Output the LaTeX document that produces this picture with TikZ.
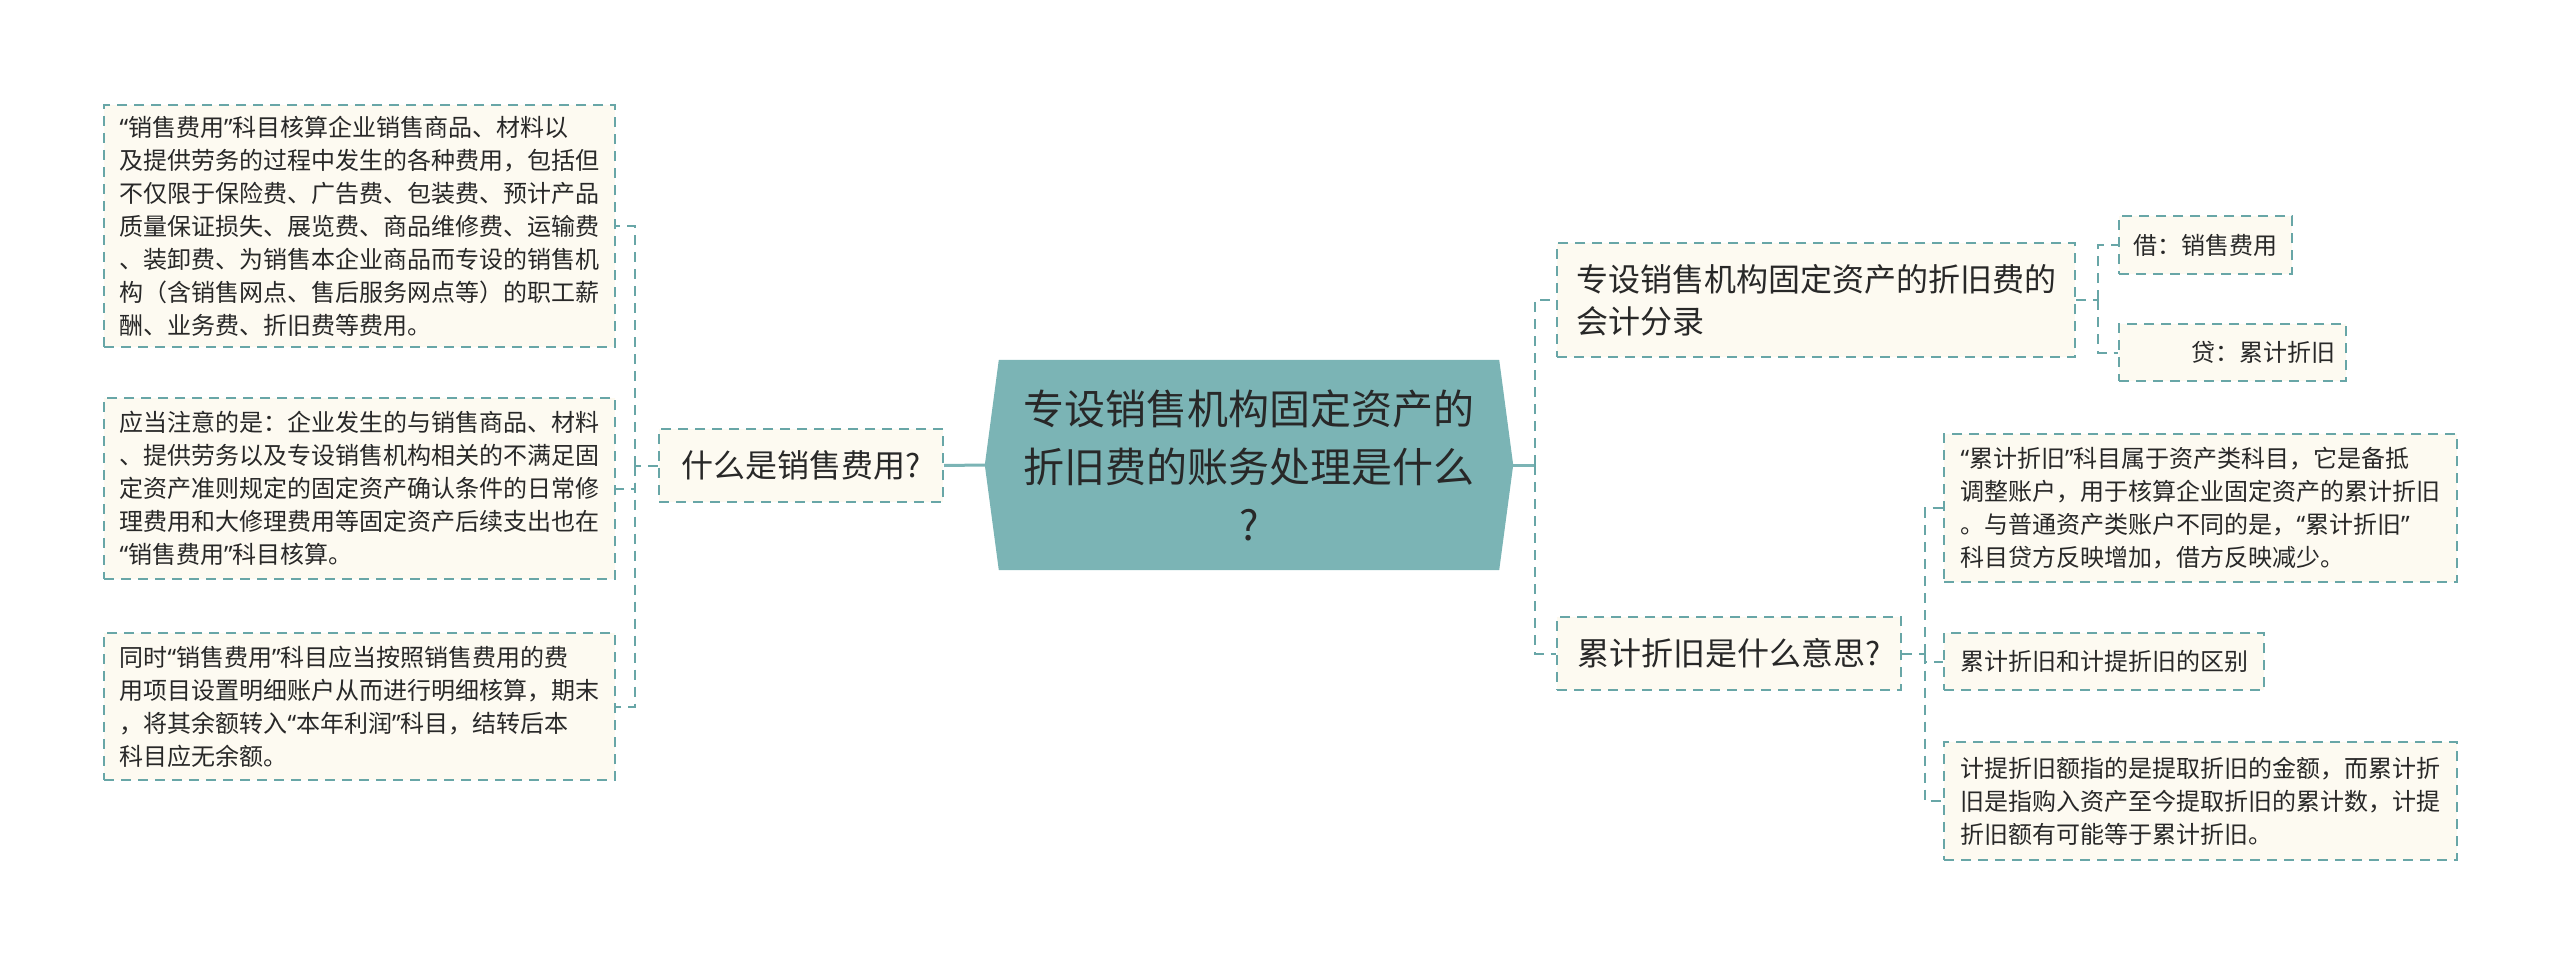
\documentclass[tikz,border=0pt]{standalone}
\usepackage{fontspec}
\newfontfamily\cjk{Noto Sans CJK SC}
\newfontfamily\latinq{Noto Sans}
\newcommand\qopen{{\latinq “}}
\newcommand\qclose{{\latinq ”}}
\usetikzlibrary{positioning,calc,backgrounds}
\definecolor{edge}{RGB}{104,166,167}
\definecolor{hexfill}{RGB}{123,180,181}
\definecolor{paper}{RGB}{253,250,241}
\definecolor{ink}{RGB}{40,40,40}

\begin{document}
\begin{tikzpicture}[x=1pt, y=-1pt, font=\cjk, text=ink,
		box/.style={draw=edge, dash pattern=on 10pt off 7pt, line width=2pt, fill=paper, anchor=north west, inner sep=0pt, align=left},
		small/.style={box, font=\cjk\fontsize{24}{33}\selectfont},
		topic/.style={box, font=\cjk\fontsize{32}{42}\selectfont},
		link/.style={draw=edge, dash pattern=on 10pt off 7pt, line width=2pt},
		trunk/.style={draw=hexfill, line width=3pt}]
		\useasboundingbox (0,0) rectangle (2560,963);
		% centre
		\node[font=\cjk\fontsize{41}{58}\selectfont, align=center, minimum width=528pt, minimum height=210pt, inner sep=0pt] (Main) at (1249,465) {专设销售机构固定资产的\\折旧费的账务处理是什么\\?};
		\begin{scope}[on background layer]
			\fill[hexfill] (Main.west) -- ($(Main.north west)+(14,0)$) -- ($(Main.north east)+(-14,0)$) -- (Main.east) -- ($(Main.south east)+(-14,0)$) -- ($(Main.south west)+(14,0)$) -- cycle;
		\end{scope}
		% left branch
		\node[topic, align=center, minimum width=284pt, minimum height=73pt] (Fee) at (658,428) {什么是销售费用?};
		\node[small, minimum width=511pt, minimum height=242pt] (FeeA) at (103,104) {\qopen 销售费用\qclose 科目核算企业销售商品、材料以\\及提供劳务的过程中发生的各种费用，包括但\\不仅限于保险费、广告费、包装费、预计产品\\质量保证损失、展览费、商品维修费、运输费\\、装卸费、为销售本企业商品而专设的销售机\\构（含销售网点、售后服务网点等）的职工薪\\酬、业务费、折旧费等费用。};
		\node[small, minimum width=511pt, minimum height=181pt] (FeeB) at (103,397) {应当注意的是：企业发生的与销售商品、材料\\、提供劳务以及专设销售机构相关的不满足固\\定资产准则规定的固定资产确认条件的日常修\\理费用和大修理费用等固定资产后续支出也在\\\qopen 销售费用\qclose 科目核算。};
		\node[small, minimum width=511pt, minimum height=147pt] (FeeC) at (103,632) {同时\qopen 销售费用\qclose 科目应当按照销售费用的费\\用项目设置明细账户从而进行明细核算，期末\\，将其余额转入\qopen 本年利润\qclose 科目，结转后本\\科目应无余额。};
		% right branch
		\node[topic, minimum width=518pt, minimum height=114pt] (Entry) at (1556,242) {专设销售机构固定资产的折旧费的\\会计分录};
		\node[small, minimum width=173pt, minimum height=58pt] (Debit) at (2118,215) {借：销售费用};
		\node[small, text width=205pt, inner xsep=11pt, align=right, minimum height=57pt] (Credit) at (2118,323) {贷：累计折旧};
		\node[topic, minimum width=344pt, minimum height=73pt] (Accum) at (1556,616) {累计折旧是什么意思?};
		\node[small, minimum width=513pt, minimum height=148pt] (AccA) at (1943,433) {\qopen 累计折旧\qclose 科目属于资产类科目，它是备抵\\调整账户，用于核算企业固定资产的累计折旧\\。与普通资产类账户不同的是，\qopen 累计折旧\qclose\\科目贷方反映增加，借方反映减少。};
		\node[small, minimum width=320pt, minimum height=57pt] (AccB) at (1943,632) {累计折旧和计提折旧的区别};
		\node[small, minimum width=513pt, minimum height=118pt] (AccC) at (1943,741) {计提折旧额指的是提取折旧的金额，而累计折\\旧是指购入资产至今提取折旧的累计数，计提\\折旧额有可能等于累计折旧。};
		% connectors
		\draw[trunk] (Main.west) -- (Fee.east);
		\coordinate (MainFork) at ([xshift=22pt]Main.east);
		\draw[trunk] (Main.east) -- (MainFork);
		\draw[link] (MainFork) |- (Entry.west);
		\draw[link] (MainFork) |- (Accum.west);
		\coordinate (FeeFork) at ([xshift=-23pt]Fee.west);
		\draw[link] (Fee.west) -- (FeeFork);
		\foreach \n in {FeeA,FeeB,FeeC} \draw[link] (FeeFork) |- (\n.east);
		\coordinate (EntryFork) at ([xshift=22pt]Entry.east);
		\draw[link] (Entry.east) -- (EntryFork);
		\foreach \n in {Debit,Credit} \draw[link] (EntryFork) |- (\n.west);
		\coordinate (AccumFork) at ([xshift=23pt]Accum.east);
		\draw[link] (Accum.east) -- (AccumFork);
		\foreach \n in {AccA,AccB,AccC} \draw[link] (AccumFork) |- (\n.west);
	\end{tikzpicture}
\end{document}
